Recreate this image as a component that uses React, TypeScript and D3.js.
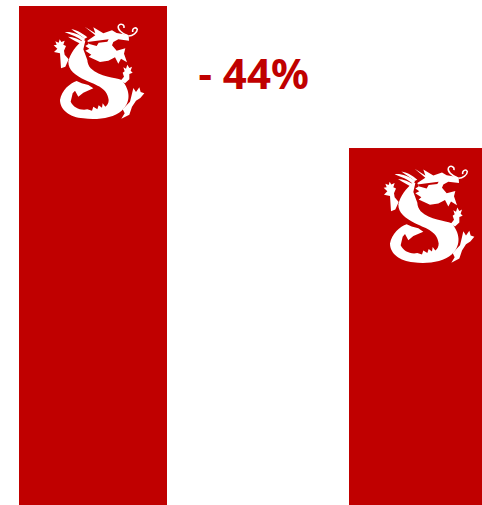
import React from "react";
import * as d3 from "d3";

// Indexed values: the second bar is 44% below the first.
const categories = ["Before", "After"];
const values = [100, 56];
const changeLabel = "- 44%";

const WIDTH = 482;
const HEIGHT = 505;
const RED = "#c00000";
const barLefts = [19, 349];
const barWidths = [148, 133];
const logoOrigins = [[50, 20], [380, 162]];
const logoStretch = [1, 1.02];

// The value axis is anchored so that the two bars keep their drawn proportion.
const y = d3.scaleLinear().domain([-54.6, 100]).range([HEIGHT, 6]);

// Dragon emblem, drawn at three units per pixel.
const dragonFill = [
  // serpent body and coiled tail
  "M100,60 C80,75 60,100 55,125 C55,150 75,165 105,180 C130,193 172,200 176,240 C176,250 172,256 166,260 L158,250 L156,263 L146,256 L142,268 L130,260 L126,272 L112,268 C90,272 70,262 62,245 L68,220 L75,212 L85,230 L100,218 L130,205 L115,195 L95,190 L80,183 C60,190 35,210 30,240 C30,270 60,292 100,295 C140,300 190,295 215,272 C240,250 245,215 215,180 C195,172 150,172 122,145 C116,138 112,128 112,120 L100,88 L106,62 Z",
  // left arm and claw
  "M33,145 L30,100 L12,96 L22,86 L11,76 L20,74 L16,64 L26,68 L29,58 L34,66 L44,62 L40,74 L48,78 L42,92 L44,104 L56,118 L46,140 Z",
  // upper right claw
  "M212,182 L222,170 L218,158 L224,154 L220,142 L228,146 L232,134 L238,144 L246,140 L242,152 L248,158 L238,162 L238,178 L225,190 Z",
  // lower right leg and claw
  "M218,268 L240,245 L245,225 L250,204 L258,216 L268,202 L272,216 L283,220 L271,234 L258,242 L246,260 L238,284 L214,296 L224,280 Z",
  // mane strands
  "M44,36 C62,34 85,40 105,56 L100,66 C85,50 62,44 44,36 Z",
  "M64,28 C80,30 98,40 112,52 L104,56 C92,46 78,38 64,28 Z",
  "M54,50 C70,50 88,58 104,68 L96,74 C82,66 68,60 54,50 Z",
  // head, horns, jaws and mane spikes
  "M104,20 L136,40 L130,22 L160,40 L186,31 L200,39 L236,45 L237,62 L205,58 L190,66 L186,76 L200,92 L226,85 L222,101 L231,127 L213,116 L205,131 L195,112 L175,122 L150,126 L116,110 L124,104 L106,92 L118,86 L106,78 L116,72 L112,62 L136,46 Z",
];
const dragonCuts = [
  // slit between brow and face
  "M112,66 L176,58 L172,65 L146,68 L140,78 L118,72 Z",
];
const dragonCurls = [
  "M232,46 C215,40 202,28 205,18 C210,9 224,12 222,24",
  "M236,48 C248,48 262,38 262,28 C258,20 246,24 248,36",
];

function Dragon({ x, y: top, stretch }: { x: number; y: number; stretch: number }) {
  return (
    <g filter="url(#soft)" transform={`translate(${x},${top}) scale(${1 / 3},${stretch / 3})`}>
      {dragonFill.map((d, i) => <path key={i} d={d} fill="#fff" />)}
      {dragonCuts.map((d, i) => <path key={i} d={d} fill={RED} />)}
      {dragonCurls.map((d, i) => <path key={i} d={d} fill="none" stroke="#fff" strokeWidth={4.5} />)}
    </g>
  );
}

export default function App() {
  return (
    <svg width={WIDTH} height={HEIGHT} style={{ position: "absolute", left: 0, top: 0, display: "block" }}>
      <defs>
        <filter id="soft" x="-5%" y="-5%" width="110%" height="110%">
          <feGaussianBlur stdDeviation={1.2} />
        </filter>
      </defs>
      {categories.map((c, i) => (
        <g key={c}>
          <rect x={barLefts[i]} y={y(values[i])} width={barWidths[i]} height={y.range()[0] - y(values[i])} fill={RED} />
          <Dragon x={logoOrigins[i][0]} y={logoOrigins[i][1]} stretch={logoStretch[i]} />
        </g>
      ))}
      <text x={198.5} y={89} fontFamily="'Noto Sans'" fontWeight={700} fontSize={42} fill={RED}>{changeLabel}</text>
    </svg>
  );
}
